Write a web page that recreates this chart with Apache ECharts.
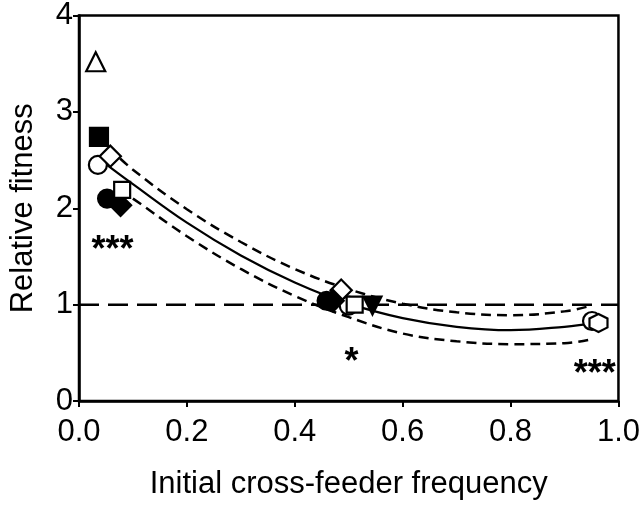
<!DOCTYPE html>
<html>
<head>
<meta charset="utf-8">
<script src="https://cdn.jsdelivr.net/npm/echarts@6/dist/echarts.min.js"></script>
<style>html,body{margin:0;padding:0;background:#fff}#c{width:643px;height:505px}</style>
</head>
<body>
<div id="c"></div>
<script>
// Axis ticks
const xTicks = [0.0, 0.2, 0.4, 0.6, 0.8, 1.0];
const yTicks = [0, 1, 2, 3, 4];

// Data points by marker type: [initial frequency, relative fitness]
const openTriangle = [[0.031, 3.52]];
const filledSquare = [[0.037, 2.74]];
const openCircle = [[0.035, 2.45], [0.500, 0.99], [0.951, 0.83]];
const openDiamond = [[0.058, 2.54], [0.486, 1.15]];
const filledCircle = [[0.052, 2.10], [0.459, 1.04]];
const filledDiamond = [[0.077, 2.03], [0.471, 1.04]];
const openSquare = [[0.080, 2.19], [0.511, 1.00]];
const filledInvTriangle = [[0.544, 0.99]];
const openHexagon = [[0.963, 0.81]];

// Fitted curve and confidence band
const fitX = [0.04, 0.1, 0.2, 0.3, 0.4, 0.5, 0.6, 0.7, 0.8, 0.9, 0.96];
const fitY = [2.50, 2.25, 1.85, 1.51, 1.23, 1.01, 0.86, 0.77, 0.735, 0.77, 0.81];
const upperX = [0.055, 0.1, 0.2, 0.3, 0.4, 0.5, 0.6, 0.7, 0.8, 0.9, 0.95];
const upperY = [2.63, 2.40, 1.99, 1.65, 1.37, 1.16, 1.01, 0.92, 0.89, 0.93, 0.99];
const lowerX = [0.075, 0.1, 0.2, 0.3, 0.4, 0.5, 0.6, 0.7, 0.8, 0.9, 0.95];
const lowerY = [2.19, 2.10, 1.71, 1.37, 1.09, 0.87, 0.70, 0.62, 0.59, 0.60, 0.64];

// Reference line and significance annotations
const refLineY = 1;
const annotX = [0.062, 0.505, 0.956];
const annotY = [1.66, 0.50, 0.37];
const annotText = ['***', '*', '***'];

const zip = (xs, ys) => xs.map((x, i) => [x, ys[i]]);
const FONT = '"Liberation Sans", Arial, sans-serif';

const chart = echarts.init(document.getElementById('c'), null, {renderer: 'canvas'});

function marker(name, data, symbol, filled, size, rotate) {
  return {
    type: 'scatter', name, data, symbol, symbolSize: size, symbolRotate: rotate || 0,
    itemStyle: {color: filled ? '#000' : '#fff', borderColor: '#000', borderWidth: 2.2, opacity: 1},
    z: 5, silent: true
  };
}
const hexPath = 'path://M0,-10 L8.66,-5 L8.66,5 L0,10 L-8.66,5 L-8.66,-5 Z';

chart.setOption({
  animation: false,
  backgroundColor: '#fff',
  grid: {left: 73, right: 21, top: 13, bottom: 101, show: true, borderColor: '#000', borderWidth: 2.5, backgroundColor: 'transparent'},
  xAxis: {
    type: 'value', min: xTicks[0], max: xTicks[xTicks.length - 1], interval: 0.2,
    name: 'Initial cross-feeder frequency', nameLocation: 'middle', nameGap: 68,
    nameTextStyle: {fontFamily: FONT, fontSize: 31, color: '#000'},
    axisLine: {lineStyle: {color: '#000', width: 2.5}},
    axisTick: {show: true, inside: false, length: 6, lineStyle: {color: '#000', width: 2}},
    axisLabel: {fontFamily: FONT, fontSize: 31, color: '#000', margin: 16, formatter: v => v.toFixed(1)},
    splitLine: {show: false}
  },
  yAxis: {
    type: 'value', min: yTicks[0], max: yTicks[yTicks.length - 1], interval: 1,
    name: 'Relative fitness', nameLocation: 'middle', nameGap: 40, nameRotate: 90,
    nameTextStyle: {fontFamily: FONT, fontSize: 31, color: '#000'},
    axisLine: {lineStyle: {color: '#000', width: 2.5}},
    axisTick: {show: true, inside: false, length: 6, lineStyle: {color: '#000', width: 2}},
    axisLabel: {fontFamily: FONT, fontSize: 31, color: '#000', margin: 6},
    splitLine: {show: false}
  },
  series: [
    {type: 'line', data: [[0, refLineY], [1, refLineY]], symbol: 'none', silent: true, z: 2,
     lineStyle: {color: '#000', width: 2.5, type: [20, 9]}},
    {type: 'line', data: zip(upperX, upperY), smooth: 0.4, symbol: 'none', silent: true, z: 2,
     lineStyle: {color: '#000', width: 2.5, type: [10, 6]}},
    {type: 'line', data: zip(lowerX, lowerY), smooth: 0.4, symbol: 'none', silent: true, z: 2,
     lineStyle: {color: '#000', width: 2.5, type: [10, 6]}},
    {type: 'line', data: zip(fitX, fitY), smooth: 0.4, symbol: 'none', silent: true, z: 2,
     lineStyle: {color: '#000', width: 2.2}},
    marker('openTriangle', openTriangle, 'triangle', false, 19),
    marker('filledSquare', filledSquare, 'rect', true, 18),
    marker('openCircle', openCircle, 'circle', false, 18),
    marker('openDiamond', openDiamond, 'rect', false, 15, 45),
    marker('filledCircle', filledCircle, 'circle', true, 18),
    marker('filledDiamond', filledDiamond, 'rect', true, 15, 45),
    marker('openSquare', openSquare, 'rect', false, 16),
    marker('filledInvTriangle', filledInvTriangle, 'triangle', true, 18, 180),
    marker('openHexagon', openHexagon, hexPath, false, 18),
    {type: 'scatter', data: zip(annotX, annotY).map((p, i) => ({value: p, label: {formatter: annotText[i]}})),
     symbol: 'circle', symbolSize: 1, itemStyle: {color: 'rgba(0,0,0,0)'}, silent: true, z: 6,
     label: {show: true, position: 'inside', offset: [0, 10], fontFamily: FONT, fontSize: 36, fontWeight: 'bold',
             color: '#000', opacity: 1, textBorderWidth: 0, textBorderColor: 'transparent'}}
  ]
});
</script>
</body>
</html>
